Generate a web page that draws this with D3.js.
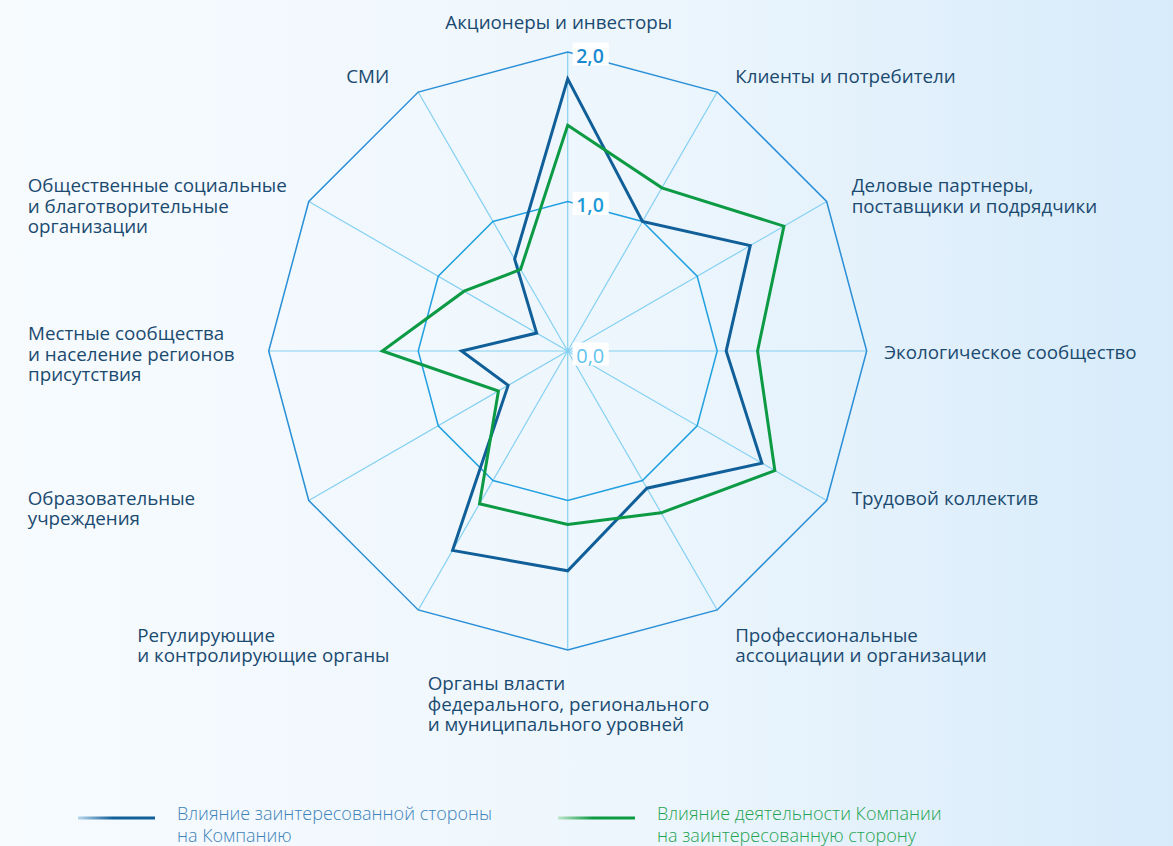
<!DOCTYPE html>
<html>
<head>
<meta charset="utf-8">
<script src="https://cdn.jsdelivr.net/npm/d3@7"></script>
<style>
	html, body { margin: 0; padding: 0; }
	body { width: 1173px; height: 846px; overflow: hidden; }
	svg { display: block; font-family: "Open Sans", sans-serif; }
</style>
</head>
<body>
<div id="vis"></div>
<script>

// stakeholder groups, clockwise from the top
var categories = [
	["Акционеры и инвесторы"],
	["Клиенты и потребители"],
	["Деловые партнеры,", "поставщики и подрядчики"],
	["Экологическое сообщество"],
	["Трудовой коллектив"],
	["Профессиональные", "ассоциации и организации"],
	["Органы власти", "федерального, регионального", "и муниципального уровней"],
	["Регулирующие", "и контролирующие органы"],
	["Образовательные", "учреждения"],
	["Местные сообщества", "и население регионов", "присутствия"],
	["Общественные социальные", "и благотворительные", "организации"],
	["СМИ"]
];

var stakeholderOnCompany = [1.82, 1.0, 1.41, 1.06, 1.5, 1.06, 1.47, 1.54, 0.46, 0.71, 0.24, 0.71];
var companyOnStakeholder = [1.51, 1.26, 1.67, 1.27, 1.6, 1.25, 1.16, 1.18, 0.535, 1.24, 0.8, 0.63];

var levels = [0, 1, 2];
var levelLabels = ["0,0", "1,0", "2,0"];

var seriesNames = [
	["Влияние заинтересованной стороны", "на Компанию"],
	["Влияние деятельности Компании", "на заинтересованную сторону"]
];

// label placement relative to the outer vertex: dx, first baseline dy, anchor
var labelLayout = [
	[-9, -23, "middle"],
	[18, -9, "start"],
	[25, -9.5, "start"],
	[17.5, 8, "start"],
	[25, 4, "start"],
	[18, 32, "start"],
	[-140, 40, "start"],
	[-281, 32, "start"],
	[-281, 4, "start"],
	[-240.7, -11, "start"],
	[-281, -9.5, "start"],
	[-72, -9, "start"]
];

var w = 1173, h = 846;
var cx = 567.7, cy = 351, R = 299;
var lineH = 20.5;

var svg = d3.select("#vis").append("svg")
	.attr("width", w)
	.attr("height", h);

var defs = svg.append("defs");

var bg = defs.append("linearGradient")
	.attr("id", "bg")
	.attr("x1", 0).attr("x2", 1).attr("y1", 0).attr("y2", 0);
bg.append("stop").attr("offset", "0%").attr("stop-color", "#f7fbfe");
bg.append("stop").attr("offset", "55%").attr("stop-color", "#edf6fd");
bg.append("stop").attr("offset", "100%").attr("stop-color", "#d7ebfa");

var legendColours = [["#b9d8ee", "#135f98"], ["#bfe6cb", "#0c9a44"]];
legendColours.forEach(function (c, i) {
	var g = defs.append("linearGradient")
		.attr("id", "lg" + i)
		.attr("x1", 0).attr("x2", 1).attr("y1", 0).attr("y2", 0);
	g.append("stop").attr("offset", "0%").attr("stop-color", c[0]);
	g.append("stop").attr("offset", "45%").attr("stop-color", c[1]);
	g.append("stop").attr("offset", "100%").attr("stop-color", c[1]);
});

svg.append("rect")
	.attr("width", w)
	.attr("height", h)
	.attr("fill", "url(#bg)");

var n = categories.length;
var r = d3.scaleLinear().domain([0, 2]).range([0, R]);
var angle = d3.scaleLinear().domain([0, n]).range([0, 2 * Math.PI]);

function px (i, v) { return cx + r(v) * Math.sin(angle(i)); }
function py (i, v) { return cy - r(v) * Math.cos(angle(i)); }

var chart = svg.append("g").attr("transform", "translate(" + cx + "," + cy + ")");

// spokes
chart.selectAll(".spoke")
	.data(d3.range(n))
	.enter()
	.append("line")
	.attr("x1", 0).attr("y1", 0)
	.attr("x2", function (d) { return r(2) * Math.sin(angle(d)); })
	.attr("y2", function (d) { return -r(2) * Math.cos(angle(d)); })
	.attr("stroke", "#84d0f2")
	.attr("stroke-width", 1.2);

var radial = d3.lineRadial()
	.angle(function (d, i) { return angle(i); })
	.curve(d3.curveLinearClosed);

// level rings
chart.selectAll(".ring")
	.data(levels.slice(1))
	.enter()
	.append("path")
	.attr("d", function (lv) {
		return radial.radius(function () { return r(lv); })(d3.range(n));
	})
	.attr("fill", "none")
	.attr("stroke", function (lv) { return lv == 2 ? "#2a8fd6" : "#22a0e0"; })
	.attr("stroke-width", 1.5);

// series
var series = [
	{ values: stakeholderOnCompany, colour: "#105f98" },
	{ values: companyOnStakeholder, colour: "#0c9a44" }
];

chart.selectAll(".series")
	.data(series)
	.enter()
	.append("path")
	.attr("d", function (s) {
		return radial.radius(function (d) { return r(d); })(s.values);
	})
	.attr("fill", "none")
	.attr("stroke", function (s) { return s.colour; })
	.attr("stroke-width", 3)
	.attr("stroke-linejoin", "miter");

// level labels
var tick = chart.selectAll(".tick")
	.data(levels)
	.enter()
	.append("g")
	.attr("transform", function (d) { return "translate(0," + (-r(d)) + ")"; });

tick.append("rect")
	.attr("x", 5)
	.attr("y", function (d) { return d == 0 ? -8.5 : -9.5; })
	.attr("width", 36)
	.attr("height", 23)
	.attr("fill", "#ffffff");

tick.append("text")
	.attr("x", 8.5)
	.attr("y", function (d) { return d == 0 ? 11.5 : 10.5; })
	.attr("font-size", function (d) { return d == 0 ? "20px" : "19.5px"; })
	.attr("font-weight", function (d) { return d == 0 ? 400 : 600; })
	.attr("fill", function (d) { return d == 0 ? "#5ec4ee" : (d == 1 ? "#1d9ad9" : "#1a8ad0"); })
	.text(function (d, i) { return levelLabels[i]; });

// category labels
var labels = svg.selectAll(".cat")
	.data(categories)
	.enter()
	.append("text")
	.attr("font-size", "18.8px")
	.attr("fill", "#1b4a70")
	.attr("text-anchor", function (d, i) { return labelLayout[i][2]; })
	.attr("transform", function (d, i) {
		return "translate(" + (px(i, 2) + labelLayout[i][0]) + "," + (py(i, 2) + labelLayout[i][1]) + ")";
	});

labels.selectAll("tspan")
	.data(function (d) { return d; })
	.enter()
	.append("tspan")
	.attr("x", 0)
	.attr("y", function (d, j) { return j * lineH; })
	.text(function (d) { return d; });

// legend
var legendX = [78, 558];
var legendCol = ["#3d82b9", "#1fa352"];

var legend = svg.selectAll(".legend")
	.data(seriesNames)
	.enter()
	.append("g")
	.attr("transform", function (d, i) { return "translate(" + legendX[i] + ",818)"; });

legend.append("line")
	.attr("x1", 0).attr("x2", 77)
	.attr("y1", 0).attr("y2", 0.01)
	.attr("stroke", function (d, i) { return "url(#lg" + i + ")"; })
	.attr("stroke-width", 3);

legend.append("text")
	.attr("font-size", "18px")
	.attr("font-weight", 300)
	.attr("fill", function (d, i) { return legendCol[i]; })
	.selectAll("tspan")
	.data(function (d) { return d; })
	.enter()
	.append("tspan")
	.attr("x", 99)
	.attr("y", function (d, j) { return 1.5 + j * 22.5; })
	.text(function (d) { return d; });

</script>
</body>
</html>
